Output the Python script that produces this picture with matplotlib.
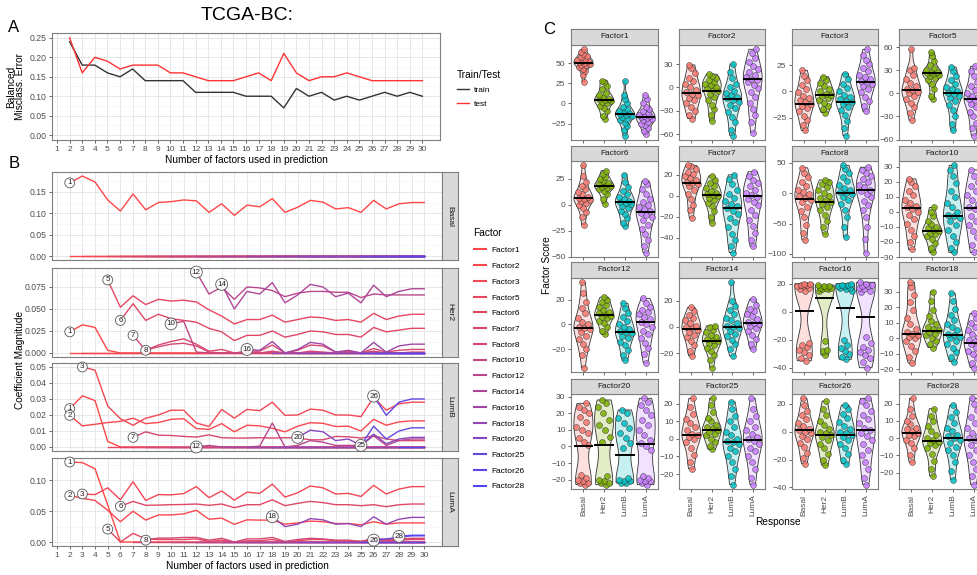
import numpy as np
import matplotlib
matplotlib.use('Agg')
import matplotlib.pyplot as plt
from matplotlib.lines import Line2D
from matplotlib.ticker import FormatStrFormatter, MultipleLocator

plt.rcParams['font.family'] = ['Liberation Sans', 'DejaVu Sans']

# ---------------- data: panel A ----------------
n_factors = list(range(2, 31))
train_err = [0.24, 0.18, 0.18, 0.16, 0.15, 0.17, 0.14, 0.14, 0.14, 0.14, 0.11, 0.11, 0.11, 0.11,
             0.10, 0.10, 0.10, 0.07, 0.12, 0.10, 0.11, 0.09, 0.10, 0.09, 0.10, 0.11, 0.10, 0.11, 0.10]
test_err = [0.25, 0.16, 0.20, 0.19, 0.17, 0.18, 0.18, 0.18, 0.16, 0.16, 0.15, 0.14, 0.14, 0.14,
            0.15, 0.16, 0.14, 0.21, 0.16, 0.14, 0.15, 0.15, 0.16, 0.15, 0.14, 0.14, 0.14, 0.14, 0.14]

# ---------------- data: panel B ----------------
# each series starts at x = max(factor, 2) and runs to 30; factors not listed in a facet lie at 0
facets = ['Basal', 'Her2', 'LumB', 'LumA']
factor_ids = [1, 2, 3, 5, 6, 7, 8, 10, 12, 14, 16, 18, 20, 25, 26, 28]

coef_basal = {
    1: [0.171, 0.187, 0.173, 0.131, 0.105, 0.145, 0.108, 0.125, 0.127, 0.131, 0.129, 0.102, 0.122, 0.095,
        0.119, 0.115, 0.134, 0.102, 0.114, 0.130, 0.126, 0.110, 0.113, 0.102, 0.130, 0.110, 0.122, 0.125, 0.125],
}
coef_her2 = {
    1: [0.024, 0.032, 0.029, 0.003, 0, 0, 0, 0, 0, 0, 0, 0, 0, 0, 0, 0, 0, 0, 0, 0, 0, 0, 0, 0, 0, 0, 0, 0, 0],
    5: [0.083, 0.052, 0.065, 0.055, 0.061, 0.059, 0.060, 0.058, 0.049, 0.042, 0.033, 0.038, 0.038, 0.043,
        0.035, 0.038, 0.041, 0.040, 0.037, 0.038, 0.035, 0.045, 0.038, 0.042, 0.044, 0.044],
    6: [0.037, 0.056, 0.037, 0.044, 0.039, 0.037, 0.035, 0.028, 0.024, 0.014, 0.020, 0.020, 0.025, 0.018,
        0.021, 0.025, 0.024, 0.021, 0.021, 0.018, 0.029, 0.024, 0.026, 0.028, 0.028],
    7: [0.020, 0.003, 0.009, 0.013, 0.016, 0.010, 0.002, 0.004, 0.000, 0.002, 0.002, 0.009, 0.000, 0.003,
        0.009, 0.008, 0.001, 0.002, 0.000, 0.005, 0.001, 0.003, 0.004, 0.004],
    8: [0.003, 0.007, 0.010, 0.011, 0.008, 0.001, 0, 0, 0, 0, 0.002, 0, 0, 0.002, 0.001, 0, 0, 0, 0.002,
        0, 0, 0.001, 0.001],
    10: [0.033, 0.036, 0.001, 0, 0, 0, 0, 0, 0, 0, 0, 0, 0, 0, 0, 0, 0, 0, 0, 0, 0],
    12: [0.092, 0.067, 0.075, 0.061, 0.075, 0.074, 0.071, 0.064, 0.068, 0.070, 0.070, 0.069, 0.069, 0.063,
         0.067, 0.066, 0.066, 0.066, 0.066],
    14: [0.078, 0.050, 0.070, 0.067, 0.080, 0.057, 0.066, 0.078, 0.075, 0.064, 0.068, 0.057, 0.077, 0.064,
         0.070, 0.073, 0.073],
    16: [0.004, 0.003, 0.013, 0.000, 0.004, 0.012, 0.010, 0.001, 0.003, 0.000, 0.012, 0.001, 0.008, 0.010, 0.010],
}
coef_lumb = {
    1: [0.024, 0.032, 0.029, 0.0035, 0, 0, 0, 0, 0, 0, 0, 0, 0, 0, 0, 0, 0, 0, 0, 0, 0, 0, 0, 0, 0, 0, 0, 0, 0],
    2: [0.0198, 0.0132, 0.0142, 0.0153, 0.016, 0.018, 0.0146, 0.0153, 0.0173, 0.0177, 0.0115, 0.011, 0.0146,
        0.0095, 0.0136, 0.0132, 0.0117, 0.0095, 0.013, 0.0152, 0.0148, 0.0128, 0.013, 0.010, 0.0173, 0.0136,
        0.0157, 0.0163, 0.0163],
    3: [0.050, 0.048, 0.0256, 0.0177, 0.0136, 0.018, 0.020, 0.023, 0.023, 0.015, 0.0128, 0.0235, 0.018,
        0.0235, 0.0227, 0.028, 0.0198, 0.020, 0.0237, 0.023, 0.020, 0.020, 0.019, 0.031, 0.023, 0.027, 0.028, 0.028],
    7: [0.006, 0.0095, 0.0074, 0.0072, 0.0066, 0.0062, 0.0076, 0.0058, 0.0056, 0.0056, 0.0058, 0.0056, 0.0058,
        0.0056, 0.0045, 0.0045, 0.0066, 0.0064, 0.0056, 0.007, 0.005, 0.004, 0.004, 0.004],
    12: [0, 0.001, 0, 0, 0, 0.0005, 0.015, 0, 0.001, 0.004, 0.003, 0.001, 0.001, 0.001, 0.007, 0.001, 0.004,
         0.005, 0.005],
    20: [0.006, 0.0105, 0.0095, 0.004, 0.005, 0.001, 0.008, 0.002, 0.005, 0.006, 0.006],
    25: [0.001, 0.013, 0.005, 0.010, 0.012, 0.012],
    26: [0.0318, 0.0198, 0.028, 0.030, 0.030],
}
coef_luma = {
    1: [0.130, 0.129, 0.119, 0.060, 0, 0, 0, 0, 0, 0, 0, 0, 0, 0, 0, 0, 0, 0, 0, 0, 0, 0, 0, 0, 0, 0, 0, 0, 0],
    2: [0.0755, 0.071, 0.0675, 0.0516, 0.033, 0.050, 0.0356, 0.044, 0.044, 0.0457, 0.0516, 0.037, 0.0388,
        0.0287, 0.036, 0.0356, 0.0356, 0.029, 0.031, 0.034, 0.033, 0.030, 0.030, 0.028, 0.033, 0.029, 0.031,
        0.031, 0.031],
    3: [0.078, 0.077, 0.088, 0.0686, 0.098, 0.0675, 0.077, 0.0766, 0.0787, 0.090, 0.072, 0.083, 0.068, 0.081,
        0.079, 0.094, 0.073, 0.080, 0.091, 0.088, 0.078, 0.079, 0.074, 0.092, 0.078, 0.086, 0.090, 0.090],
    5: [0.021, 0.0, 0.014, 0.005, 0.004, 0.004, 0.004, 0.005, 0.001, 0.003, 0.0, 0.002, 0.002, 0.004, 0.0,
        0.002, 0.004, 0.004, 0.002, 0.002, 0.001, 0.004, 0.002, 0.003, 0.004, 0.004],
    6: [0.058, 0.066, 0.0596, 0.060, 0.0606, 0.061, 0.0617, 0.0596, 0.0617, 0.0558, 0.0606, 0.0606, 0.0686,
        0.059, 0.0628, 0.066, 0.064, 0.0606, 0.0606, 0.059, 0.0606, 0.0574, 0.0606, 0.0617, 0.0617],
    8: [0.003, 0.0064, 0.0064, 0.0074, 0.0074, 0.003, 0.006, 0.0, 0.005, 0.005, 0.0074, 0.001, 0.004, 0.006,
        0.005, 0.003, 0.003, 0.001, 0.006, 0.004, 0.005, 0.006, 0.006],
    18: [0.041, 0.025, 0.029, 0.038, 0.036, 0.029, 0.030, 0.025, 0.041, 0.029, 0.037, 0.040, 0.040],
    26: [0.003, 0.005, 0.008, 0.010, 0.010],
    28: [0.009, 0.011, 0.011],
}
coef_all = [coef_basal, coef_her2, coef_lumb, coef_luma]
facet_yticks = [[0.00, 0.05, 0.10, 0.15], [0.000, 0.025, 0.050, 0.075],
                [0.00, 0.01, 0.02, 0.03, 0.04, 0.05], [0.00, 0.05, 0.10]]
facet_fmt = ['%.2f', '%.3f', '%.2f', '%.2f']

# ---------------- data: panel C ----------------
responses = ['Basal', 'Her2', 'LumB', 'LumA']
resp_colors = ['#F8766D', '#7CAE00', '#00BFC4', '#C77CFF']
c_factors = [1, 2, 3, 5, 6, 7, 8, 10, 12, 14, 16, 18, 20, 25, 26, 28]
scores = {
    1: [[27, 35, 40, 43, 45, 47, 48, 49, 50, 51, 52, 53, 54, 55, 57, 59, 61, 64, 67],
        [-19, -15, -10, -6, -3, 0, 2, 3, 4, 5, 6, 8, 10, 13, 18, 22, 26, 28],
        [-40, -33, -28, -24, -21, -19, -17, -15, -14, -13, -12, -11, -9, -7, -4, 0, 5, 10, 28],
        [-38, -34, -30, -27, -25, -23, -21, -19, -18, -17, -16, -15, -14, -12, -10, -7, -4, 0, 5, 10]],
    2: [[-40, -35, -30, -25, -20, -16, -13, -10, -8, -6, -3, 0, 4, 8, 12, 18, 25, 29],
        [-43, -35, -28, -22, -16, -12, -8, -5, -3, -1, 1, 3, 5, 7, 9, 12, 15, 17],
        [-62, -55, -45, -38, -32, -27, -23, -19, -16, -14, -12, -10, -7, -4, 0, 5, 12, 20, 30],
        [-58, -45, -36, -28, -20, -12, -6, -1, 3, 7, 9, 11, 13, 16, 20, 24, 28, 33, 38, 44, 49]],
    3: [[-37, -32, -27, -23, -19, -16, -14, -12, -10, -8, -6, -4, -1, 2, 6, 11, 15, 20],
        [-20, -17, -14, -11, -8, -6, -4, -3, -2, 0, 2, 5, 8, 11, 14],
        [-42, -35, -28, -22, -18, -15, -12, -10, -9, -7, -5, -3, 0, 3, 7, 12, 17],
        [-19, -14, -9, -5, -1, 2, 5, 7, 9, 10, 12, 14, 16, 19, 22, 26, 30, 35, 40]],
    5: [[-35, -25, -18, -12, -7, -3, 0, 2, 4, 6, 9, 13, 18, 24, 30, 33, 57],
        [-8, -3, 5, 12, 17, 20, 22, 24, 25, 26, 27, 28, 30, 33, 37, 42, 48, 53],
        [-48, -40, -30, -22, -15, -10, -6, -3, -1, 1, 3, 5, 8, 12, 17, 23, 29, 34],
        [-55, -45, -38, -30, -24, -18, -14, -11, -9, -7, -5, -3, 0, 4, 9, 15, 22, 29, 35]],
    6: [[-19, -12, -7, -3, 0, 2, 4, 5, 6, 7, 8, 10, 12, 15, 18, 22, 28, 38],
        [1, 6, 10, 13, 15, 16, 17, 18, 19, 20, 21, 23, 25, 27, 30, 33],
        [-20, -17, -13, -9, -6, -3, -1, 1, 2, 3, 4, 6, 8, 10, 13, 17, 22, 29],
        [-46, -40, -34, -28, -23, -19, -15, -12, -10, -8, -6, -4, -2, 0, 3, 6, 10, 15, 20, 23]],
    7: [[-21, -13, -9, -3, 2, 6, 9, 11, 12, 13, 15, 17, 19, 21, 23, 26, 28, 29],
        [-26, -20, -14, -10, -7, -4, -2, 0, 1, 2, 3, 5, 7, 9, 12, 15, 19],
        [-54, -48, -42, -36, -30, -25, -21, -17, -14, -12, -10, -8, -5, -2, 2, 6, 11, 16, 20],
        [-48, -42, -35, -29, -23, -18, -13, -9, -6, -3, -1, 1, 3, 6, 9, 12, 15, 19, 23]],
    8: [[-77, -65, -52, -40, -30, -22, -15, -11, -8, -5, -2, 2, 6, 12, 18, 26, 34, 42],
        [-67, -55, -45, -36, -28, -22, -17, -14, -11, -8, -4, 0, 5, 10, 15, 19, 22],
        [-72, -55, -40, -28, -18, -11, -6, -2, 0, 2, 5, 9, 14, 20, 27, 34, 40, 46],
        [-98, -75, -55, -40, -28, -19, -12, -6, -1, 3, 6, 10, 14, 18, 23, 28, 33, 38, 43]],
    10: [[-25, -20, -16, -12, -8, -5, -2, 0, 2, 3, 4, 6, 8, 11, 14, 17, 20, 22],
         [-27, -24, -21, -18, -16, -15, -14, -13, -12, -11, -10, -8, -6, -3, 0, 3],
         [-27, -24, -20, -16, -12, -9, -6, -4, -3, -2, 0, 3, 6, 10, 14, 19, 24, 28, 31],
         [-27, -22, -17, -13, -9, -6, -3, 0, 2, 3, 5, 8, 11, 14, 17, 20, 24, 28]],
    12: [[-35, -25, -20, -16, -12, -9, -6, -4, -3, -2, 0, 2, 5, 9, 13, 18, 25, 34],
         [-8, -5, -2, 1, 3, 5, 6, 7, 8, 9, 10, 12, 14, 16, 18, 20, 22],
         [-29, -25, -21, -17, -14, -11, -9, -7, -6, -5, -4, -2, 0, 3, 6, 9, 13, 17],
         [-31, -24, -19, -15, -11, -8, -5, -2, 0, 2, 4, 6, 8, 10, 12, 14, 17, 21]],
    14: [[-22, -18, -14, -11, -8, -6, -4, -2, -1, 0, 1, 3, 5, 7, 9, 12, 15],
         [-31, -25, -21, -18, -16, -14, -12, -11, -10, -9, -8, -6, -4, -2, 0, 1],
         [-22, -17, -13, -10, -7, -5, -3, -1, 0, 1, 3, 5, 7, 10, 13, 16, 20, 34],
         [-17, -13, -9, -6, -3, -1, 1, 2, 3, 4, 6, 8, 10, 12, 14, 17, 21]],
    16: [[-35, -33, -31, -29, -27, -25, -24, -22, 15, 16, 17, 18, 18, 19, 19, 20, 20],
         [-31, -28, -27, -21, 15, 16, 16, 17, 17, 17, 18, 18, 19],
         [-34, -32, -30, -28, -26, -24, -20, 15, 16, 17, 17, 18, 18, 19, 19, 20],
         [-40, -36, -33, -31, -29, -27, -25, -22, -18, 14, 15, 16, 17, 18, 18, 19, 20, 21]],
    18: [[-16, -12, -8, -5, -2, 0, 1, 2, 3, 4, 6, 9, 13, 18, 23, 28, 33, 36],
         [-6, -4, -2, 0, 2, 3, 4, 5, 6, 7, 9, 11, 14, 18, 24, 30],
         [-15, -12, -9, -6, -4, -2, 0, 1, 2, 3, 5, 7, 9, 12, 15, 19, 24, 29],
         [-19, -16, -13, -10, -8, -6, -4, -3, -2, -1, 1, 3, 5, 7, 10, 13, 16]],
    20: [[-23, -22, -22, -21, -20, -19, -17, 1, 3, 5, 8, 10, 12, 15, 18, 20, 22, 24, 26],
         [-23, -22, -22, -21, -20, -18, 3, 6, 10, 13, 16, 20, 24, 26, 28],
         [-22, -22, -21, -21, -20, -19, -1, 2, 5, 8, 11, 14, 17, 20, 22],
         [-23, -22, -21, -21, -20, -19, -18, -2, 0, 2, 4, 7, 10, 13, 16, 19, 22, 25, 27, 29]],
    25: [[-17, -13, -9, -5, -2, 0, 1, 2, 3, 5, 7, 9, 11, 14, 18, 23],
         [-6, -4, -2, 0, 2, 3, 4, 5, 6, 7, 8, 10, 12, 15, 19, 23],
         [-26, -21, -17, -13, -10, -7, -5, -3, -2, -1, 0, 2, 4, 7, 10, 13, 17, 21],
         [-26, -22, -17, -13, -10, -7, -5, -3, -1, 0, 1, 3, 5, 7, 10, 13, 17, 23]],
    26: [[-23, -19, -15, -11, -8, -5, -3, -1, 0, 1, 2, 4, 6, 9, 12, 15, 19, 24],
         [-24, -20, -16, -12, -9, -6, -4, -2, -1, 0, 2, 5, 8, 12, 16, 22],
         [-23, -20, -16, -12, -9, -6, -4, -2, -1, 0, 2, 4, 7, 10, 13, 16, 19],
         [-38, -33, -27, -22, -17, -13, -9, -6, -3, -1, 1, 3, 6, 9, 12, 15, 19, 22, 24]],
    28: [[-14, -10, -6, -3, -1, 1, 2, 3, 4, 5, 6, 8, 10, 13, 17, 23],
         [-22, -18, -13, -9, -6, -4, -3, -2, -1, 0, 2, 4, 7, 10, 13, 17],
         [-24, -19, -14, -10, -7, -5, -3, -1, 0, 1, 2, 4, 6, 9, 12, 15, 19],
         [-27, -22, -18, -14, -10, -7, -4, -2, -1, 0, 1, 3, 6, 9, 12, 16, 20, 23]],
}
score_medians = {
    1: [50, 4.5, -13, -16.5], 2: [-7, -4, -14.5, 11], 3: [-11.8, -3.1, -10, 9.4], 5: [4, 26, 1, -7.5],
    6: [6.5, 18.5, 3, -7], 7: [12, 1, -11.5, -0.5], 8: [-9, -14, 1, 5.5], 10: [2.7, -12.5, -3, 2.3],
    12: [-2.7, 7.8, -6, 1.9], 14: [-1.5, -11, 0, 3], 16: [0.7, 10, 2.8, -3.5], 18: [2.7, 4.4, 1.9, -2.9],
    20: [0.4, 0.6, -5.2, 1.4], 25: [2.1, 5, -2, -0.4], 26: [1, -2.4, -2.4, 1], 28: [3.2, -1.5, 0, -1],
}
c_yticks = {
    1: [-25, 0, 25, 50], 2: [-60, -30, 0, 30], 3: [-25, 0, 25], 5: [-60, -30, 0, 30, 60],
    6: [-50, -25, 0, 25], 7: [-40, -20, 0, 20], 8: [-100, -50, 0, 50], 10: [-30, -20, -10, 0, 10, 20, 30],
    12: [-20, 0, 20], 14: [-20, 0, 20], 16: [-40, -20, 0, 20], 18: [-20, -10, 0, 10, 20, 30],
    20: [-20, -10, 0, 10, 20, 30], 25: [-20, -10, 0, 10, 20], 26: [-40, -20, 0, 20], 28: [-20, -10, 0, 10, 20],
}

# ---------------- figure ----------------
W, H = 977, 575
fig = plt.figure(figsize=(W / 100, H / 100), dpi=100)


def box(x0, y0, x1, y1):
    return fig.add_axes([x0 / W, 1 - y1 / H, (x1 - x0) / W, (y1 - y0) / H])


TICKC = '#4D4D4D'
BORDER = '#7F7F7F'


def factor_color(k):
    # red -> blue ramp over 30 factors, lightened like a 0.7-alpha line on white
    t = (k - 1) / 29.0
    base = np.array([1 - t, 0.0, t])
    return tuple(0.72 * base + 0.28 * np.ones(3))


def style_bw(ax):
    for s in ax.spines.values():
        s.set_color(BORDER)
        s.set_linewidth(0.8)
    ax.tick_params(labelsize=6.2, labelcolor=TICKC, color=TICKC, length=2.5, width=0.6, pad=1.5)
    ax.tick_params(which='minor', length=0)
    ax.grid(True, which='major', color='#E6E6E6', lw=0.7)
    ax.grid(True, which='minor', axis='y', color='#F2F2F2', lw=0.4)
    ax.set_axisbelow(True)


xs_all = np.arange(1, 31)

# ---- Panel A ----
axA = box(52, 33, 440, 140)
axA.plot(n_factors, train_err, color='#333333', lw=1.0, label='train')
axA.plot(n_factors, test_err, color='#FF3333', lw=1.0, label='test')
axA.set_xlim(0.6, 31.4)
axA.set_ylim(-0.0125, 0.2625)
axA.set_xticks(xs_all)
axA.set_yticks([0, 0.05, 0.10, 0.15, 0.20, 0.25])
axA.yaxis.set_minor_locator(MultipleLocator(0.025))
axA.yaxis.set_major_formatter(FormatStrFormatter('%.2f'))
style_bw(axA)
axA.tick_params(axis='x', labelsize=6.0)
axA.set_ylabel('Balanced\nMisclass. Error', fontsize=7.3, labelpad=3, linespacing=0.95)
axA.set_xlabel('Number of factors used in prediction', fontsize=7.3, labelpad=2)
fig.legend(handles=[Line2D([], [], color='#333333', lw=1.0),
                    Line2D([], [], color='#FF3333', lw=1.0)],
           labels=['train', 'test'], title='Train/Test', loc='upper left',
           bbox_to_anchor=(449 / W, 1 - 62 / H), frameon=False, fontsize=6.0, title_fontsize=7.3,
           handlelength=1.5, labelspacing=0.75, handletextpad=0.6, alignment='left')

# ---- Panel B ----
b_rows = [(172, 260), (268, 357), (363, 451), (458, 546)]
for fi, (facet, coefs) in enumerate(zip(facets, coef_all)):
    y0, y1 = b_rows[fi]
    ax = box(52, y0, 442, y1)
    ymax = 0.0
    for k in factor_ids:
        start = max(k, 2)
        xk = np.arange(start, 31)
        if k in coefs:
            yk = np.asarray(coefs[k], float)
        else:
            yk = np.zeros(len(xk))
        ymax = max(ymax, yk.max())
        ax.plot(xk, yk, color=factor_color(k), lw=1.0)
    for k in factor_ids:
        if k in coefs and max(coefs[k]) > 0:
            start = max(k, 2)
            ax.text(start, coefs[k][0], str(k), ha='center', va='center', fontsize=5.8, color='#222222',
                    zorder=10, clip_on=False,
                    bbox=dict(boxstyle='circle,pad=0.18', fc='white', ec='#444444', lw=0.6, alpha=0.9))
    ax.set_xlim(0.6, 31.4)
    ax.set_ylim(-0.05 * ymax, 1.05 * ymax)
    ax.set_xticks(xs_all)
    ax.set_yticks(facet_yticks[fi])
    ax.yaxis.set_major_formatter(FormatStrFormatter(facet_fmt[fi]))
    step = facet_yticks[fi][1] - facet_yticks[fi][0]
    ax.yaxis.set_minor_locator(MultipleLocator(step / 2))
    style_bw(ax)
    if fi < 3:
        ax.tick_params(axis='x', labelbottom=False, length=0)
    else:
        ax.tick_params(axis='x', labelsize=6.0)
        ax.set_xlabel('Number of factors used in prediction', fontsize=7.3, labelpad=2)
    # strip
    sax = box(442, y0, 458, y1)
    sax.set_facecolor('#D9D9D9')
    for s in sax.spines.values():
        s.set_color(BORDER)
        s.set_linewidth(0.8)
    sax.set_xticks([])
    sax.set_yticks([])
    sax.text(0.5, 0.5, facet, rotation=270, ha='center', va='center', fontsize=6.0, color='#1A1A1A',
             transform=sax.transAxes)

fig.text(20 / W, 1 - 360 / H, 'Coefficient Magnitude', rotation=90, ha='center', va='center', fontsize=7.3)

fig.legend(handles=[Line2D([], [], color=factor_color(k), lw=1.5) for k in factor_ids],
           labels=['Factor%d' % k for k in factor_ids], title='Factor', loc='upper left',
           bbox_to_anchor=(466 / W, 1 - 221 / H), frameon=False, fontsize=6.0, title_fontsize=7.3,
           handlelength=1.5, labelspacing=0.95, handletextpad=0.6, alignment='left')

# ---- Panel C ----
c_cols = [(571, 658), (679, 765), (792, 878), (899, 986)]
c_strips = [(29, 45), (146, 161), (262, 278), (379, 394)]
c_panels = [(45, 140), (161, 257), (278, 372), (394, 489)]


def kde(v, grid):
    v = np.asarray(v, float)
    n = len(v)
    sd = v.std(ddof=1)
    q75, q25 = np.percentile(v, [75, 25])
    bw = 0.9 * min(sd, (q75 - q25) / 1.34) * n ** -0.2
    if bw <= 0:
        bw = 0.9 * sd * n ** -0.2
    z = (grid[:, None] - v[None, :]) / bw
    return np.exp(-0.5 * z ** 2).sum(1) / (n * bw * np.sqrt(2 * np.pi))


golden = 0.6180339887
for idx, fk in enumerate(c_factors):
    r, c = divmod(idx, 4)
    x0, x1 = c_cols[c]
    py0, py1 = c_panels[r]
    sy0, sy1 = c_strips[r]
    ax = box(x0, py0, x1, py1)
    groups = scores[fk]
    allv = np.concatenate([np.asarray(g, float) for g in groups])
    lo, hi = allv.min(), allv.max()
    for gi, g in enumerate(groups):
        grid = np.linspace(min(g), max(g), 200)
        d = kde(g, grid)
        xc = gi + 1
        hw = 0.46 * d / d.max()
        px = np.concatenate([xc - hw, (xc + hw)[::-1]])
        py = np.concatenate([grid, grid[::-1]])
        ax.fill(px, py, facecolor=resp_colors[gi], alpha=0.22, edgecolor='none', zorder=1)
        ax.fill(px, py, facecolor='none', edgecolor='#333333', lw=0.6, zorder=2)
        vals = np.asarray(g, float)
        local = np.interp(vals, grid, hw)
        u = (((np.arange(len(vals)) + 1) * golden) % 1.0) * 2 - 1
        ax.scatter(xc + u * local * 0.8, vals, s=18, facecolor=resp_colors[gi], edgecolor='#333333',
                   linewidths=0.4, alpha=0.85, zorder=3)
        ax.hlines(score_medians[fk][gi], xc - 0.47, xc + 0.47, color='black', lw=1.4, zorder=4)
    span = hi - lo
    ax.set_ylim(lo - 0.05 * span, hi + 0.05 * span)
    ax.set_xlim(0.4, 4.6)
    ax.set_yticks(c_yticks[fk])
    ax.set_xticks([1, 2, 3, 4])
    for s in ax.spines.values():
        s.set_color(BORDER)
        s.set_linewidth(0.8)
    ax.tick_params(labelsize=6.0, labelcolor=TICKC, color=TICKC, length=2.5, width=0.6, pad=1.5)
    if r < 3:
        ax.tick_params(axis='x', labelbottom=False)
    else:
        ax.set_xticklabels(responses, rotation=90, fontsize=6.0)
    sax = box(x0, sy0, x1, sy1)
    sax.set_facecolor('#D9D9D9')
    for s in sax.spines.values():
        s.set_color(BORDER)
        s.set_linewidth(0.8)
    sax.set_xticks([])
    sax.set_yticks([])
    sax.text(0.5, 0.5, 'Factor%d' % fk, ha='center', va='center', fontsize=6.0, color='#1A1A1A',
             transform=sax.transAxes)

fig.text(547 / W, 1 - 265 / H, 'Factor Score', rotation=90, ha='center', va='center', fontsize=7.3)
fig.text(778 / W, 1 - 522 / H, 'Response', ha='center', va='center', fontsize=7.3)

# ---- titles & panel letters ----
fig.text(247 / W, 1 - 16 / H, 'TCGA-BC:', ha='center', va='center', fontsize=14)
fig.text(14 / W, 1 - 27 / H, 'A', ha='center', va='center', fontsize=12)
fig.text(14 / W, 1 - 164 / H, 'B', ha='center', va='center', fontsize=12)
fig.text(549 / W, 1 - 30 / H, 'C', ha='center', va='center', fontsize=12)

fig.savefig('out.png', dpi=100)
